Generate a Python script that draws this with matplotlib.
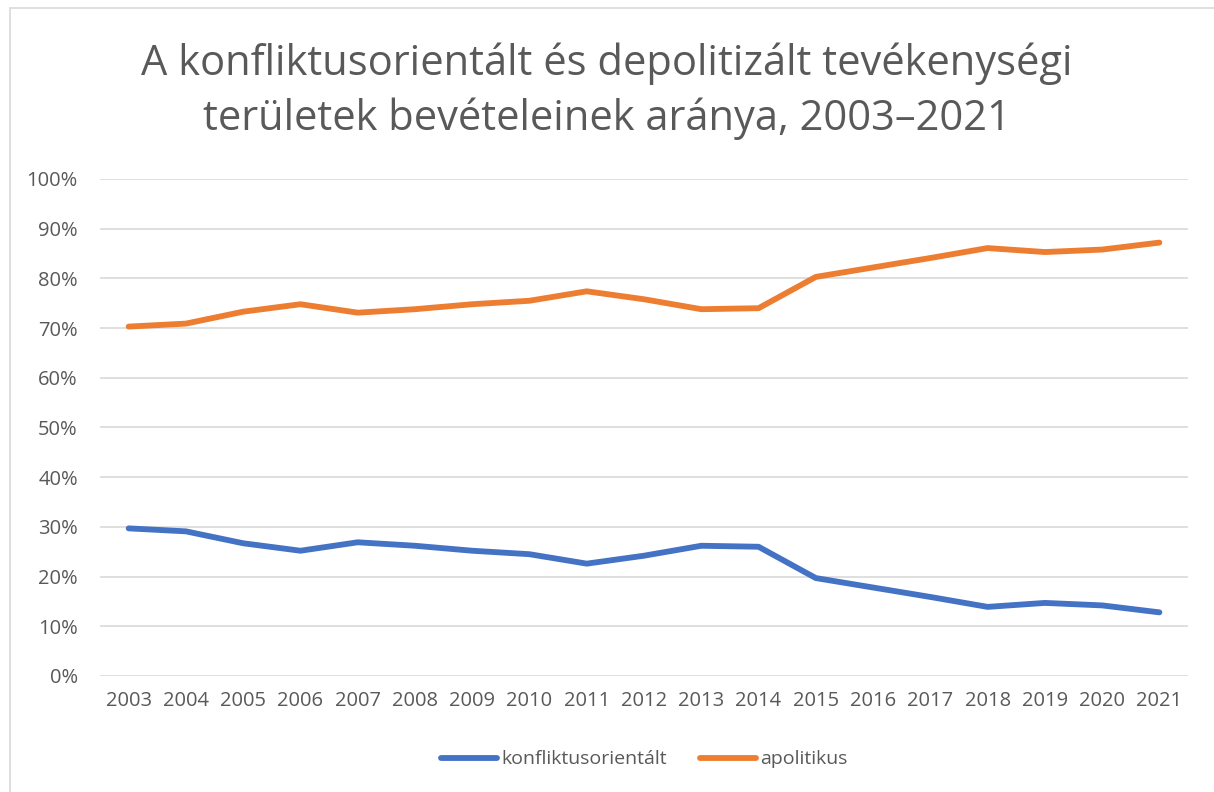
import matplotlib.pyplot as plt
from matplotlib.patches import Rectangle
from matplotlib.ticker import FuncFormatter

years = [str(y) for y in range(2003, 2022)]
konfliktus = [29.7, 29.1, 26.7, 25.2, 26.9, 26.2, 25.2, 24.5, 22.6, 24.2,
              26.2, 26.0, 19.7, 17.8, 15.9, 13.9, 14.7, 14.2, 12.8]
apolitikus = [70.3, 70.9, 73.3, 74.8, 73.1, 73.8, 74.8, 75.5, 77.4, 75.8,
              73.8, 74.0, 80.3, 82.2, 84.1, 86.1, 85.3, 85.8, 87.2]

plt.rcParams['font.family'] = ['Open Sans', 'DejaVu Sans']
gray = '#595959'

fig = plt.figure(figsize=(12.14, 7.92), dpi=100)
ax = fig.add_axes([0.0824, 0.1465, 0.8962, 0.6275])

x = range(len(years))
ax.plot(x, konfliktus, color='#4472C4', lw=4.2, solid_capstyle='round',
        solid_joinstyle='round', label='konfliktusorientált')
ax.plot(x, apolitikus, color='#ED7D31', lw=4.2, solid_capstyle='round',
        solid_joinstyle='round', label='apolitikus')

ax.set_xlim(-0.5, len(years) - 0.5)
ax.set_ylim(0, 100)
ax.set_yticks(range(0, 101, 10))
ax.yaxis.set_major_formatter(FuncFormatter(lambda v, p: f'{int(v)}%'))
ax.set_xticks(list(x))
ax.set_xticklabels(years)
ax.grid(axis='y', color='#D9D9D9', lw=1.2)
ax.set_axisbelow(True)
for s in ax.spines.values():
    s.set_visible(False)
ax.tick_params(length=0, labelsize=14.5, colors=gray)
ax.tick_params(axis='y', pad=16)
ax.tick_params(axis='x', pad=11)

fig.text(0.5, 0.885, 'A konfliktusorientált és depolitizált tevékenységi\nterületek bevételeinek aránya, 2003–2021',
         fontsize=30, color=gray, ha='center', va='center', linespacing=1.4)

ax.legend(loc='center', bbox_to_anchor=(0.5, -0.168), ncol=2, frameon=False,
          fontsize=14, labelcolor=gray, handlelength=2.9, handletextpad=0.2,
          columnspacing=1.7)

fig.patches.append(Rectangle((0.008, -0.01), 1.1, 1.0, transform=fig.transFigure,
                             fill=False, edgecolor='#D9D9D9', lw=1.2))

fig.savefig('out.png', dpi=100)
